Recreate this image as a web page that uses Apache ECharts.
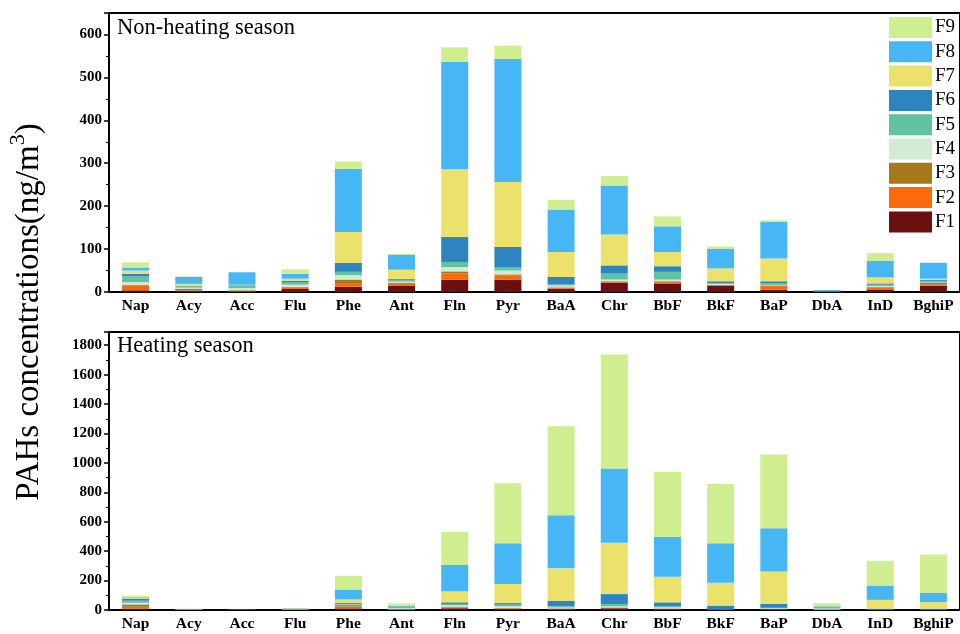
<!DOCTYPE html>
<html>
<head>
<meta charset="utf-8">
<script src="https://cdn.jsdelivr.net/npm/echarts@6/dist/echarts.min.js"></script>
<style>
  html, body { margin: 0; padding: 0; background: #fff; }
  #chart { width: 960px; height: 634px; }
</style>
</head>
<body>
<div id="chart"></div>
<script>
// PAH species on the x axis
const categories = ['Nap', 'Acy', 'Acc', 'Flu', 'Phe', 'Ant', 'Fln', 'Pyr', 'BaA', 'Chr', 'BbF', 'BkF', 'BaP', 'DbA', 'InD', 'BghiP'];

const factorNames = ['F1', 'F2', 'F3', 'F4', 'F5', 'F6', 'F7', 'F8', 'F9'];
const factorColors = ['#6b1010', '#fb6b0b', '#a5781a', '#d4ebd3', '#62c3a0', '#2e84bf', '#ebe26c', '#47b6f5', '#cfee8f'];

// Non-heating season factor contributions (ng/m3)
const nhF1 = [4, 2, 1, 7, 12, 14, 29, 29, 8, 22, 20, 15, 5, 0.5, 6, 15];
const nhF2 = [11, 1, 1, 4, 9, 5, 14, 9, 2, 1, 3, 1, 9, 0.3, 5, 3];
const nhF3 = [2, 4, 2, 1, 8, 2, 5, 3, 1, 2, 2, 1, 1, 0.2, 1, 3];
const nhF4 = [6, 3, 5, 5, 10, 3, 10, 9, 4, 4, 4, 2, 1, 0.5, 2, 1];
const nhF5 = [13, 3, 6, 5, 8, 3, 12, 7, 3, 14, 18, 2, 4, 1, 3, 4];
const nhF6 = [6, 1, 1, 4, 21, 3, 58, 48, 17, 19, 13, 4, 5, 1.5, 3, 2];
const nhF7 = [8, 5, 1, 5, 72, 22, 158, 151, 58, 72, 33, 30, 53, 0, 14, 3];
const nhF8 = [7, 16, 29, 11, 147, 35, 250, 287, 99, 114, 60, 46, 85, 0.5, 39, 37];
const nhF9 = [12, 1, 0, 11, 17, 2, 34, 31, 23, 22, 23, 5, 4, 0, 18, 0.5];

// Heating season factor contributions (ng/m3)
const hF1 = [10, 0.5, 0, 1, 11, 2, 12, 6, 4, 12, 5, 1, 3, 2, 3, 3];
const hF2 = [12, 0, 0, 0, 12, 1, 6, 4, 3, 4, 3, 1, 2, 0, 1, 1];
const hF3 = [16, 0.5, 0, 0, 10, 1, 5, 4, 4, 2, 3, 1, 2, 0, 1, 1];
const hF4 = [11, 2, 1, 4, 3, 8, 9, 11, 6, 7, 7, 1, 4, 8, 3, 3];
const hF5 = [14, 0, 0, 6, 6, 13, 9, 11, 8, 16, 7, 2, 4, 12, 2, 2];
const hF6 = [13, 0, 0, 0, 8, 2, 11, 11, 38, 67, 27, 24, 27, 3, 1, 1];
const hF7 = [4, 3, 0, 0, 22, 2, 75, 130, 220, 349, 174, 155, 219, 0, 58, 43];
const hF8 = [6, 0, 0, 0, 64, 2, 179, 276, 362, 505, 272, 268, 295, 0, 97, 64];
const hF9 = [11, 3, 1, 3, 97, 14, 226, 408, 605, 775, 442, 403, 502, 20, 169, 260];

const nonHeating = [nhF1, nhF2, nhF3, nhF4, nhF5, nhF6, nhF7, nhF8, nhF9];
const heating = [hF1, hF2, hF3, hF4, hF5, hF6, hF7, hF8, hF9];

// Y axis ranges and tick steps for the two panels
const topMax = 650, topStep = 100;
const botMax = 1890, botStep = 200;

const serif = 'Liberation Serif';

function xAxisCfg(gridIndex) {
  return {
    type: 'category',
    gridIndex: gridIndex,
    data: categories,
    axisLine: { lineStyle: { color: '#000', width: 2 } },
    axisTick: { alignWithLabel: true, length: 5, lineStyle: { color: '#000', width: 1.5 } },
    axisLabel: { color: '#000', fontFamily: serif, fontWeight: 'bold', fontSize: 15.5, margin: 6 },
    splitLine: { show: false }
  };
}

function yAxisCfg(gridIndex, max, step) {
  return {
    type: 'value',
    gridIndex: gridIndex,
    min: 0,
    max: max,
    interval: step,
    axisLine: { show: true, lineStyle: { color: '#000', width: 2 } },
    axisTick: { show: true, length: 5, lineStyle: { color: '#000', width: 1.5 } },
    minorTick: { show: true, splitNumber: 2, length: 3, lineStyle: { color: '#000', width: 1.2 } },
    axisLabel: {
      color: '#000', fontFamily: serif, fontWeight: 'bold', fontSize: 15, margin: 7, showMaxLabel: false,
      formatter: function (v) { return String(v); }
    },
    splitLine: { show: false },
    minorSplitLine: { show: false }
  };
}

const series = [];
factorNames.forEach(function (name, i) {
  series.push({
    name: name, type: 'bar', stack: 'nh', xAxisIndex: 0, yAxisIndex: 0,
    barWidth: 27, data: nonHeating[i], itemStyle: { color: factorColors[i] }
  });
});
factorNames.forEach(function (name, i) {
  series.push({
    name: name, type: 'bar', stack: 'h', xAxisIndex: 1, yAxisIndex: 1,
    barWidth: 27, data: heating[i], itemStyle: { color: factorColors[i] }
  });
});

const chart = echarts.init(document.getElementById('chart'), null, { renderer: 'canvas' });
chart.setOption({
  animation: false,
  backgroundColor: '#fff',
  grid: [
    { left: 109, right: -5, top: 13, bottom: 342, show: true, borderColor: '#000', borderWidth: 2, backgroundColor: 'transparent' },
    { left: 109, right: -5, top: 332, bottom: 24, show: true, borderColor: '#000', borderWidth: 2, backgroundColor: 'transparent' }
  ],
  xAxis: [xAxisCfg(0), xAxisCfg(1)],
  yAxis: [yAxisCfg(0, topMax, topStep), yAxisCfg(1, botMax, botStep)],
  legend: {
    data: factorNames.slice().reverse(),
    orient: 'vertical',
    left: 889,
    top: 17,
    padding: 0,
    itemWidth: 43,
    itemHeight: 21,
    itemGap: 3.3,
    icon: 'rect',
    textStyle: { color: '#000', fontFamily: serif, fontSize: 19, padding: [0, 0, 0, -2] }
  },
  graphic: [
    {
      type: 'text', x: 117, y: 28,
      style: { text: 'Non-heating season', fontFamily: serif, fontSize: 22.5, fill: '#000', verticalAlign: 'middle' }
    },
    {
      type: 'text', x: 117, y: 346,
      style: { text: 'Heating season', fontFamily: serif, fontSize: 22.5, fill: '#000', verticalAlign: 'middle' }
    },
    {
      type: 'text', x: 29, y: 312, rotation: Math.PI / 2,
      style: {
        text: 'PAHs concentrations(ng/m{s|3})',
        fontFamily: serif, fontSize: 33, fill: '#000',
        align: 'center', verticalAlign: 'middle',
        rich: { s: { fontFamily: serif, fontSize: 22, verticalAlign: 'top', lineHeight: 44 } }
      }
    }
  ],
  series: series
});
</script>
</body>
</html>
